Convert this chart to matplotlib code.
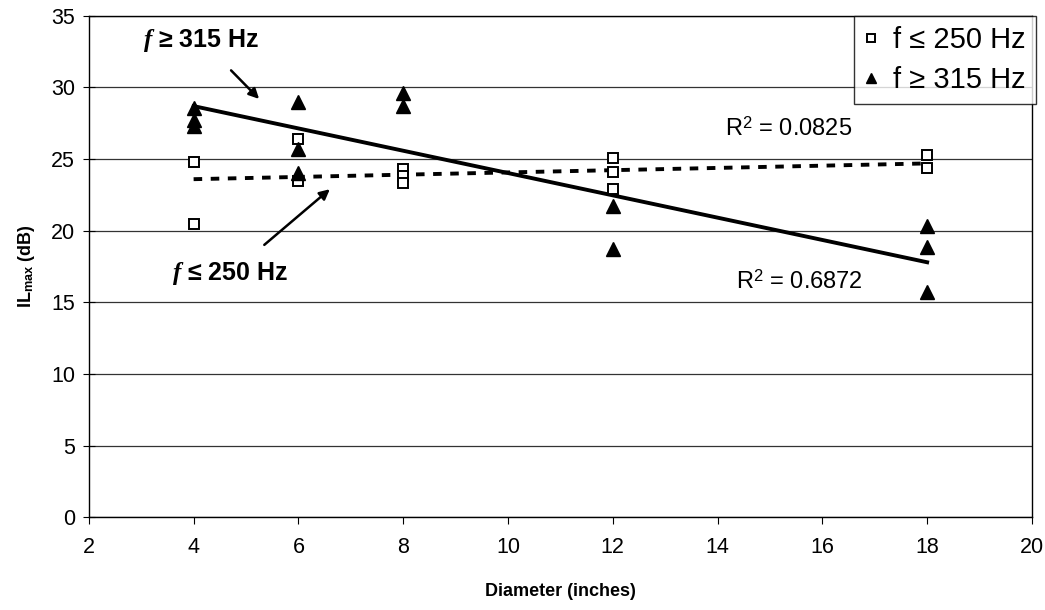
import numpy as np
import matplotlib
matplotlib.use("Agg")
import matplotlib.pyplot as plt

plt.rcParams['font.family'] = ['Liberation Sans', 'DejaVu Sans']
plt.rcParams['mathtext.fontset'] = 'custom'
plt.rcParams['mathtext.it'] = 'Liberation Serif:italic:bold'
plt.rcParams['mathtext.rm'] = 'Liberation Sans'
plt.rcParams['mathtext.bf'] = 'Liberation Sans:bold'

# Low frequency points (f <= 250 Hz)
low_x = [4, 4, 6, 6, 8, 8, 8, 12, 12, 12, 18, 18]
low_y = [24.8, 20.5, 26.4, 23.5, 24.3, 23.8, 23.3, 25.1, 24.1, 22.9, 25.3, 24.4]

# High frequency points (f >= 315 Hz)
high_x = [4, 4, 4, 6, 6, 6, 8, 8, 12, 12, 18, 18, 18]
high_y = [28.6, 27.7, 27.3, 29.0, 25.7, 24.0, 29.6, 28.7, 21.7, 18.7, 20.3, 18.9, 15.7]

# Trend lines as drawn in the chart
low_trend_x = [4, 18]
low_trend_y = [23.6, 24.7]
high_trend_x = [4, 18]
high_trend_y = [28.7, 17.8]

x_ticks = [2, 4, 6, 8, 10, 12, 14, 16, 18, 20]
y_ticks = [0, 5, 10, 15, 20, 25, 30, 35]

fig = plt.figure(figsize=(10.45, 6.10), dpi=100)
ax = fig.add_axes([0.085, 0.152, 0.9025, 0.822])

# Gridlines
for y in y_ticks:
    ax.axhline(y, color='#333333', linewidth=0.9, zorder=1)

# Trend lines
ax.plot(low_trend_x, low_trend_y, color='black', linewidth=2.8,
        linestyle=(0, (2.2, 2.2)), zorder=2)
ax.plot(high_trend_x, high_trend_y, color='black', linewidth=2.8, zorder=2)

# Data points
ax.plot(low_x, low_y, 's', markersize=7.5, markerfacecolor='white',
        markeredgecolor='black', markeredgewidth=1.4, linestyle='none',
        label='f ≤ 250 Hz', zorder=3)
ax.plot(high_x, high_y, '^', markersize=10, color='black', linestyle='none',
        label='f ≥ 315 Hz', zorder=3)

ax.set_xlim(2, 20)
ax.set_ylim(0, 35)
ax.set_xticks(x_ticks)
ax.set_yticks(y_ticks)
ax.tick_params(axis='both', labelsize=15.5, color='black', length=5)
ax.tick_params(axis='x', pad=9)
ax.tick_params(axis='y', direction='inout', length=8, pad=6)
for s in ax.spines.values():
    s.set_color('black')
    s.set_linewidth(1.0)

ax.set_xlabel('Diameter (inches)', fontsize=13, fontweight='bold', labelpad=18)
ax.set_ylabel(r'IL$_{\mathbf{max}}$ (dB)', fontsize=13, fontweight='bold',
              labelpad=10)

# Annotations
ax.annotate(r'$\mathit{f}$ ≥ 315 Hz', xy=(5.25, 29.2), xytext=(4.15, 33.3),
            fontsize=18, fontweight='bold', ha='center', va='center',
            arrowprops=dict(arrowstyle='-|>', color='black', lw=1.8,
                            shrinkA=14, shrinkB=0, mutation_scale=15))
ax.annotate(r'$\mathit{f}$ ≤ 250 Hz', xy=(6.6, 22.9), xytext=(4.7, 17.0),
            fontsize=18, fontweight='bold', ha='center', va='center',
            arrowprops=dict(arrowstyle='-|>', color='black', lw=1.8,
                            shrinkA=14, shrinkB=0, mutation_scale=15))
ax.text(15.35, 27.1, r'R$^2$ = 0.0825', fontsize=17, ha='center', va='center')
ax.text(15.55, 16.4, r'R$^2$ = 0.6872', fontsize=17, ha='center', va='center')

leg = ax.legend(loc='upper right', bbox_to_anchor=(1.004, 1.0), fontsize=21,
                frameon=True, fancybox=False, edgecolor='black',
                handlelength=0.5, handletextpad=0.5, borderpad=0.35,
                labelspacing=0.4, borderaxespad=0.0, markerscale=0.7)
leg.get_frame().set_linewidth(1.0)

fig.savefig('out.png', dpi=100)
